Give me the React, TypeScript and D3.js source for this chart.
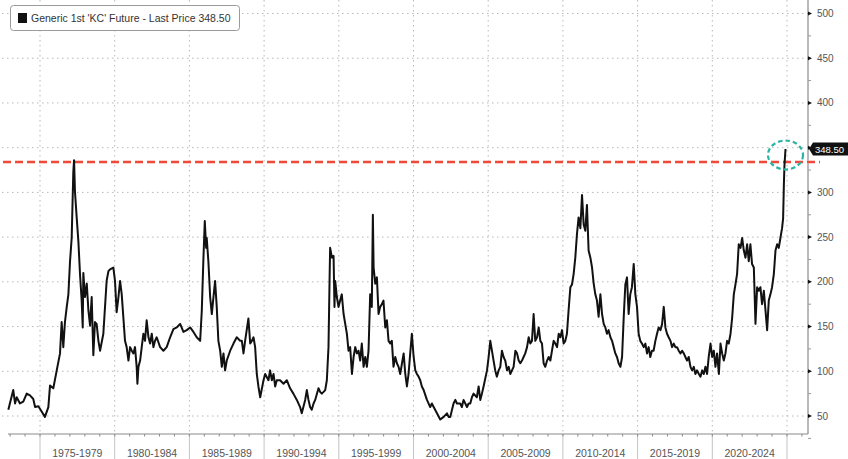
import React from 'react';
import * as d3 from 'd3';

// Generic 1st 'KC' Future (cents/lb)
const years = [
  1972.88, 1973.21, 1973.33, 1973.44, 1973.66, 1973.88, 1974.11, 1974.33, 1974.55, 1974.67, 1974.89,
  1975.11, 1975.33, 1975.56, 1975.67, 1975.89, 1976.12, 1976.34, 1976.45, 1976.56, 1976.67, 1976.79, 1976.9,
  1977.01, 1977.12, 1977.23, 1977.28, 1977.34, 1977.46, 1977.57, 1977.68, 1977.79, 1977.86, 1977.9,
  1978.01, 1978.13, 1978.24, 1978.35, 1978.46, 1978.57, 1978.68, 1978.79, 1978.91,
  1979.02, 1979.24, 1979.46, 1979.58, 1979.69, 1979.91,
  1980.02, 1980.13, 1980.25, 1980.36, 1980.47, 1980.58, 1980.69, 1980.8, 1980.92,
  1981.03, 1981.14, 1981.25, 1981.36, 1981.47, 1981.52, 1981.59, 1981.7, 1981.81, 1981.92,
  1982.03, 1982.14, 1982.26, 1982.37, 1982.48, 1982.59, 1982.7, 1982.81,
  1983.04, 1983.26, 1983.48, 1983.71, 1983.93, 1984.15, 1984.38, 1984.6, 1984.82,
  1985.05, 1985.27, 1985.49, 1985.72, 1985.83, 1985.94, 1986.03, 1986.12, 1986.16, 1986.27, 1986.39,
  1986.5, 1986.61, 1986.72, 1986.83, 1986.94, 1987.06, 1987.17, 1987.28, 1987.39, 1987.5, 1987.73, 1987.95,
  1988.17, 1988.4, 1988.51, 1988.62, 1988.73, 1988.95, 1989.07, 1989.18, 1989.29, 1989.4, 1989.51, 1989.62, 1989.74, 1989.96,
  1990.07, 1990.29, 1990.4, 1990.52, 1990.63, 1990.74, 1990.85, 1991.07, 1991.3, 1991.52, 1991.74, 1991.96,
  1992.19, 1992.41, 1992.52, 1992.75, 1992.86, 1992.97, 1993.08, 1993.19, 1993.31, 1993.42, 1993.64, 1993.75, 1993.86, 1993.98,
  1994.09, 1994.2, 1994.31, 1994.38, 1994.42, 1994.54, 1994.65, 1994.71, 1994.76, 1994.87, 1994.98,
  1995.09, 1995.2, 1995.32, 1995.43, 1995.54, 1995.65, 1995.76, 1995.88, 1995.99,
  1996.1, 1996.21, 1996.32, 1996.43, 1996.54, 1996.66, 1996.77, 1996.88, 1996.99,
  1997.1, 1997.21, 1997.28, 1997.33, 1997.44, 1997.55, 1997.66, 1997.77, 1997.88, 1997.99,
  1998.11, 1998.22, 1998.33, 1998.44, 1998.55, 1998.66, 1998.78, 1998.89, 1999.0, 1999.11,
  1999.34, 1999.45, 1999.56, 1999.67, 1999.78, 1999.89, 2000.01, 2000.12, 2000.23, 2000.34, 2000.45, 2000.56, 2000.68, 2000.9,
  2001.12, 2001.23, 2001.35, 2001.57, 2001.79, 2002.02, 2002.24, 2002.35, 2002.46, 2002.68, 2002.8, 2002.91,
  2003.13, 2003.24, 2003.35, 2003.58, 2003.69, 2003.8, 2003.91, 2004.02, 2004.24, 2004.36, 2004.47, 2004.58, 2004.69, 2004.92,
  2005.03, 2005.14, 2005.25, 2005.36, 2005.47, 2005.58, 2005.7, 2005.81, 2005.92, 2006.03, 2006.14, 2006.26, 2006.37, 2006.48,
  2006.7, 2006.82, 2006.93, 2007.04, 2007.15, 2007.26, 2007.37, 2007.48, 2007.6, 2007.71, 2007.82, 2007.93,
  2008.04, 2008.15, 2008.27, 2008.38, 2008.49, 2008.6, 2008.71, 2008.82, 2008.94, 2009.05, 2009.16, 2009.27, 2009.38,
  2009.49, 2009.61, 2009.72, 2009.83, 2009.94, 2010.05, 2010.16, 2010.27, 2010.38, 2010.5, 2010.61, 2010.72, 2010.83, 2010.94,
  2011.05, 2011.17, 2011.28, 2011.39, 2011.5, 2011.61, 2011.72, 2011.84, 2011.95, 2012.06, 2012.17, 2012.28, 2012.39,
  2012.51, 2012.62, 2012.73, 2012.84, 2012.95, 2013.06, 2013.18, 2013.29, 2013.4, 2013.51, 2013.62, 2013.73, 2013.85, 2013.96,
  2014.07, 2014.18, 2014.29, 2014.4, 2014.51, 2014.62, 2014.74, 2014.85, 2014.96,
  2015.07, 2015.18, 2015.29, 2015.41, 2015.52, 2015.63, 2015.74, 2015.85, 2015.96,
  2016.07, 2016.19, 2016.3, 2016.41, 2016.53, 2016.64, 2016.75, 2016.86, 2016.97,
  2017.08, 2017.2, 2017.31, 2017.42, 2017.53, 2017.64, 2017.75, 2017.87, 2017.98,
  2018.09, 2018.2, 2018.31, 2018.42, 2018.54, 2018.65, 2018.76, 2018.87, 2018.98,
  2019.1, 2019.21, 2019.32, 2019.43, 2019.54, 2019.65, 2019.76, 2019.88, 2019.99,
  2020.1, 2020.21, 2020.32, 2020.44, 2020.55, 2020.66, 2020.77, 2020.88, 2020.99,
  2021.1, 2021.22, 2021.33, 2021.44, 2021.55, 2021.66, 2021.77, 2021.89, 2022.0,
  2022.11, 2022.22, 2022.33, 2022.44, 2022.55, 2022.66, 2022.78, 2022.89, 2023.0,
  2023.11, 2023.22, 2023.33, 2023.45, 2023.56, 2023.67, 2023.78, 2023.89, 2024.0,
  2024.12, 2024.23, 2024.34, 2024.45, 2024.56, 2024.67, 2024.74, 2024.79, 2024.83, 2024.9,
];

const prices = [
  57, 79, 64, 71, 64, 66, 75, 73, 69, 60, 61,
  55, 49, 60, 84, 81, 101, 120, 155, 127, 155, 172, 186,
  223, 249, 323, 336, 301, 271, 245, 208, 179, 149, 210,
  183, 198, 168, 151, 183, 118, 155, 153, 134,
  123, 142, 201, 212, 214, 216,
  201, 166, 183, 201, 186, 160, 134, 127, 112,
  127, 123, 120, 127, 105, 86, 105, 112, 127, 142,
  134, 157, 138, 131, 142, 127, 134, 138,
  127, 123, 127, 138, 147, 149, 153, 144, 146,
  149, 144, 138, 134, 168, 227, 268, 238, 249, 223, 183,
  164, 183, 201, 172, 134, 123, 105, 120, 101, 112, 123, 131,
  138, 134, 134, 120, 134, 159, 131, 134, 138, 127, 97, 83, 71, 90,
  97, 90, 101, 90, 97, 83, 90, 90, 86, 90, 81, 75,
  68, 60, 53, 68, 79, 68, 60, 57, 64, 68, 81, 77, 75, 77,
  79, 90, 127, 200, 238, 227, 229, 172, 201, 183, 172,
  179, 186, 164, 153, 142, 123, 127, 97, 116,
  127, 120, 123, 112, 131, 105, 116, 105, 123,
  186, 172, 275, 216, 198, 205, 164, 172, 175, 179,
  149, 157, 134, 131, 134, 105, 116, 109, 105, 97,
  120, 97, 83, 97, 120, 142, 116, 101, 97, 94, 90, 83, 79, 68,
  60, 64, 60, 53, 46, 49, 53, 49, 49, 64, 68, 64,
  64, 60, 68, 60, 64, 64, 71, 75, 71, 83, 68, 75, 83, 101,
  116, 134, 123, 112, 101, 94, 101, 105, 123, 116, 112, 101, 105, 97,
  105, 123, 120, 112, 109, 112, 116, 120, 127, 138, 131, 134,
  164, 134, 138, 149, 134, 131, 109, 105, 112, 116, 112, 123, 134,
  131, 127, 142, 138, 146, 131, 134, 142, 168, 194, 197, 209, 227, 253,
  272, 260, 297, 264, 257, 286, 235, 227, 216, 198, 186, 179, 161,
  186, 164, 153, 149, 142, 146, 138, 134, 127, 120, 116, 109, 105, 116,
  160, 197, 205, 164, 186, 194, 220, 186, 172,
  142, 134, 131, 127, 131, 120, 127, 116, 123,
  123, 134, 142, 149, 146, 153, 172, 149, 142,
  138, 134, 127, 131, 127, 127, 123, 120, 123,
  120, 116, 112, 116, 105, 101, 105, 97, 101,
  97, 94, 101, 97, 105, 97, 116, 131, 116,
  123, 105, 120, 97, 131, 120, 112, 120, 134,
  131, 142, 160, 186, 197, 209, 242, 238, 249,
  235, 227, 242, 223, 242, 220, 216, 153, 194,
  190, 194, 175, 190, 168, 146, 179, 186, 194,
  209, 235, 242, 238, 249, 260, 271, 308, 330, 348.5,
];

const yTicks = [50, 100, 150, 200, 250, 300, 350, 400, 450, 500];
const periodStarts = [1975, 1980, 1985, 1990, 1995, 2000, 2005, 2010, 2015, 2020];
const periodLabels = ['1975-1979', '1980-1984', '1985-1989', '1990-1994', '1995-1999', '2000-2004', '2005-2009', '2010-2014', '2015-2019', '2020-2024'];
const legendText = "Generic 1st 'KC' Future - Last Price 348.50";
const lastPrice = 348.5;
const previousHigh = 334;

export default function App() {
  const W = 848;
  const H = 459;
  const plotLeft = 8;
  const plotRight = 808;
  const plotBottom = 434;
  const x = d3.scaleLinear().domain([1975, 2025]).range([40, 787]);
  const y = d3.scaleLinear().domain([50, 500]).range([416, 13.5]);

  const data: [number, number][] = years.map((t, i) => [t, prices[i]]);
  const line = d3.line<[number, number]>().x(d => x(d[0])).y(d => y(d[1]));

  const yearTicks = d3.range(1973, 2027);
  const minorY = d3.range(25, 525, 25).filter(v => v % 50 !== 0);
  const gridYears = [...periodStarts, 2025];
  const lastX = x(years[years.length - 1]);
  const lastY = y(lastPrice);
  const font = '"Liberation Sans", Arial, sans-serif';

  return (
    <svg width={W} height={H} style={{ position: 'absolute', left: 0, top: 0, background: '#fff' }} fontFamily={font}>
      <rect x={0} y={0} width={W} height={H} fill="#fff" />
      {/* horizontal dotted grid */}
      {yTicks.map(v => (
        <line key={'hg' + v} x1={2} x2={plotRight} y1={y(v)} y2={y(v)} stroke="#b8b8b8" strokeWidth={1} strokeDasharray="1.5 3.5" />
      ))}
      {/* vertical dotted grid */}
      {gridYears.map(t => (
        <line key={'vg' + t} x1={x(t)} x2={x(t)} y1={0} y2={plotBottom} stroke="#b8b8b8" strokeWidth={1} strokeDasharray="1.5 3.5" />
      ))}
      {/* separators in label band */}
      {gridYears.map(t => (
        <line key={'sep' + t} x1={x(t)} x2={x(t)} y1={plotBottom} y2={H} stroke="#c4c4c4" strokeWidth={1} />
      ))}
      {/* bottom axis */}
      <line x1={plotLeft} x2={plotRight} y1={plotBottom} y2={plotBottom} stroke="#8a8a8a" strokeWidth={1} />
      {yearTicks.map(t => (
        <line key={'xt' + t} x1={x(t)} x2={x(t)} y1={plotBottom} y2={plotBottom + 2.5} stroke="#8a8a8a" strokeWidth={1} />
      ))}
      {periodStarts.map((s, i) => (
        <text key={'pl' + s} x={x(s + 2.5)} y={457} fontSize={10.5} fill="#555" textAnchor="middle">{periodLabels[i]}</text>
      ))}
      {/* right axis */}
      <line x1={plotRight} x2={plotRight} y1={0} y2={plotBottom} stroke="#8a8a8a" strokeWidth={1.2} />
      {minorY.map(v => (
        <line key={'my' + v} x1={plotRight} x2={plotRight + 3} y1={y(v)} y2={y(v)} stroke="#999" strokeWidth={1} />
      ))}
      {yTicks.map(v => (
        <g key={'yt' + v}>
          <path d={`M${plotRight},${y(v) - 2} L${plotRight + 4},${y(v)} L${plotRight},${y(v) + 2} Z`} fill="#111" />
          {Math.abs(v - lastPrice) > 12 && (
            <text x={plotRight + 9} y={y(v) + 3.5} fontSize={10} fill="#555">{v}</text>
          )}
        </g>
      ))}
      {/* previous high dashed line */}
      <line x1={3} x2={820} y1={y(previousHigh)} y2={y(previousHigh)} stroke="#f7a199" strokeWidth={4} strokeDasharray="8 4" opacity={0.5} />
      <line x1={3} x2={820} y1={y(previousHigh)} y2={y(previousHigh)} stroke="#ee4a3a" strokeWidth={2.2} strokeDasharray="8 4" />
      {/* price line */}
      <path d={line(data) || ''} fill="none" stroke="#111" strokeWidth={2} strokeLinejoin="round" />
      {/* highlight ellipse */}
      <ellipse cx={lastX} cy={lastY + 6} rx={17.5} ry={14.5} fill="none" stroke="#2bb3a3" strokeWidth={2.2} strokeDasharray="4.5 3" />
      {/* last price label */}
      <path d={`M${plotRight + 1},${lastY} L${plotRight + 5},${lastY - 6.5} L${W},${lastY - 6.5} L${W},${lastY + 6.5} L${plotRight + 5},${lastY + 6.5} Z`} fill="#111" />
      <text x={plotRight + 7} y={lastY + 3.5} fontSize={9.5} fill="#fff">{lastPrice.toFixed(2)}</text>
      {/* legend */}
      <rect x={10.5} y={5.5} width={229} height={25} rx={3} fill="#fff" stroke="#9a9a9a" strokeWidth={1} />
      <rect x={18} y={13} width={9} height={10} fill="#111" />
      <text x={31} y={22} fontSize={10.5} fill="#333">{legendText}</text>
    </svg>
  );
}
